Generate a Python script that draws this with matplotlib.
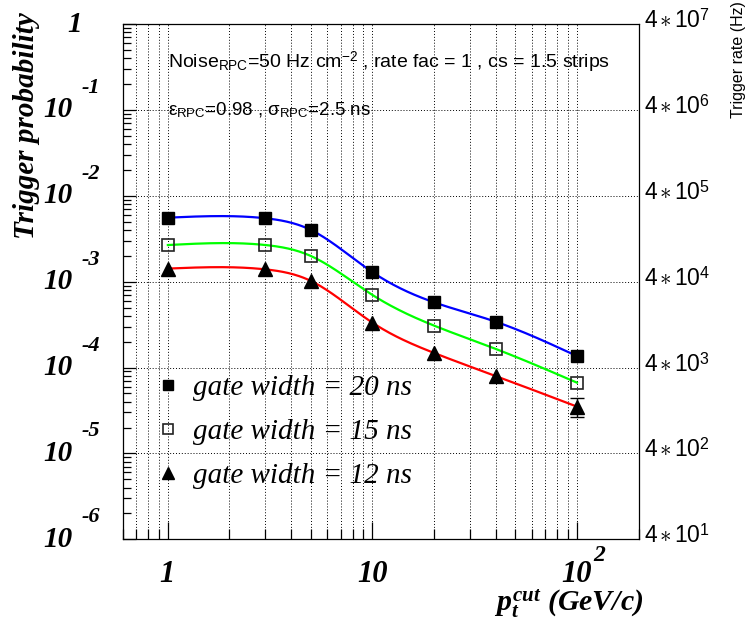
import numpy as np
import matplotlib
matplotlib.use('Agg')
import matplotlib.pyplot as plt
from matplotlib.lines import Line2D

# data
pt_cut = [1, 3, 5, 10, 20, 40, 100]
prob_20ns = [5.56e-3, 5.47e-3, 4.00e-3, 1.29e-3, 5.75e-4, 3.42e-4, 1.36e-4]
prob_15ns = [2.67e-3, 2.67e-3, 1.99e-3, 7.00e-4, 3.08e-4, 1.65e-4, 6.67e-5]
prob_12ns = [1.42e-3, 1.39e-3, 1.02e-3, 3.33e-4, 1.48e-4, 7.98e-5, 3.51e-5]
err_12ns = [0, 0, 0, 0, 0, 0, 0.85e-5]
legend_labels = ['gate width = 20 ns', 'gate width = 15 ns', 'gate width = 12 ns']
rate_factor = 4e7  # trigger rate = probability * 4e7 Hz

plt.rcParams['mathtext.fontset'] = 'custom'
plt.rcParams['mathtext.it'] = 'Liberation Serif:italic:bold'
plt.rcParams['mathtext.rm'] = 'Liberation Sans'
plt.rcParams['mathtext.bf'] = 'Liberation Serif:bold'

SERIF = 'Liberation Serif'
SANS = 'Liberation Sans'


def smooth_curve(x, y, n=300):
    # natural cubic spline in log-log space, like ROOT's "C" drawing option
    lx = np.log10(np.asarray(x, float))
    ly = np.log10(np.asarray(y, float))
    m = len(lx)
    h = np.diff(lx)
    A = np.zeros((m, m))
    b = np.zeros(m)
    A[0, 0] = A[-1, -1] = 1
    for i in range(1, m - 1):
        A[i, i - 1] = h[i - 1]
        A[i, i] = 2 * (h[i - 1] + h[i])
        A[i, i + 1] = h[i]
        b[i] = 3 * ((ly[i + 1] - ly[i]) / h[i] - (ly[i] - ly[i - 1]) / h[i - 1])
    c = np.linalg.solve(A, b)
    xs = np.linspace(lx[0], lx[-1], n)
    k = np.clip(np.searchsorted(lx, xs) - 1, 0, m - 2)
    dx = xs - lx[k]
    bb = (ly[k + 1] - ly[k]) / h[k] - h[k] * (2 * c[k] + c[k + 1]) / 3
    dd = (c[k + 1] - c[k]) / (3 * h[k])
    ys = ly[k] + bb * dx + c[k] * dx ** 2 + dd * dx ** 3
    return 10 ** xs, 10 ** ys


fig = plt.figure(figsize=(7.5, 6.24), dpi=100)
ax = fig.add_axes([122.5 / 750, 1 - 539.3 / 624, (638.5 - 122.5) / 750, (539.3 - 24) / 624])
ax.set_xscale('log')
ax.set_yscale('log')
ax.set_xlim(0.6, 200)
ax.set_ylim(1e-6, 1)

# grid: all x ticks, y decades only
xgrid = [m * 10 ** e for e in range(-1, 3) for m in range(1, 10)]
xgrid = [v for v in xgrid if 0.6 < v < 200]
for v in xgrid:
    ax.axvline(v, color='black', lw=0.7, ls=(0, (1, 2)), zorder=0)
for e in range(-5, 0):
    ax.axhline(10.0 ** e, color='black', lw=0.7, ls=(0, (1, 2)), zorder=0)

for yv, col in [(prob_20ns, '#0000ff'), (prob_15ns, '#00ff00'), (prob_12ns, '#ff0000')]:
    xs, ys = smooth_curve(pt_cut, yv)
    ax.plot(xs, ys, color=col, lw=1.6, zorder=2)

ax.plot(pt_cut, prob_20ns, 's', ms=8.6, color='black', zorder=3)
ax.plot(pt_cut, prob_15ns, 's', ms=8.6, mfc='none', mec='#222222', mew=1.2, zorder=3)
ax.plot(pt_cut, prob_12ns, '^', ms=10, color='black', zorder=3)
sel = [i for i, e in enumerate(err_12ns) if e > 0]
ax.errorbar([pt_cut[i] for i in sel], [prob_12ns[i] for i in sel],
            yerr=[err_12ns[i] for i in sel], fmt='none', ecolor='black',
            elinewidth=1.0, capsize=5, capthick=1.0, zorder=3)

# axes frame and ticks (ROOT-like, inward, left/bottom only)
for s in ax.spines.values():
    s.set_linewidth(0.9)
ax.tick_params(which='both', direction='in', top=False, right=False,
               labelleft=False, labelbottom=False)
ax.tick_params(axis='x', which='major', length=12, width=0.9)
ax.tick_params(axis='x', which='minor', length=7, width=0.9)
ax.tick_params(axis='y', which='major', length=9, width=0.9)
ax.tick_params(axis='y', which='minor', length=6, width=0.9)
ax.yaxis.set_minor_locator(matplotlib.ticker.LogLocator(base=10, subs=np.arange(2, 10), numticks=20))

# left tick labels, ROOT style exponent
lab = dict(family=SERIF, weight='bold', style='italic')
for e in range(-6, 1):
    v = 10.0 ** e
    if e == 0:
        ax.annotate('1', (0, v), xycoords=('axes fraction', 'data'), xytext=(-47.5, 0),
                    textcoords='offset pixels', ha='center', va='center', fontsize=21, **lab)
    else:
        ax.annotate('10', (0, v), xycoords=('axes fraction', 'data'), xytext=(-64.5, 0),
                    textcoords='offset pixels', ha='center', va='center', fontsize=21, **lab)
        ax.annotate(str(e), (0, v), xycoords=('axes fraction', 'data'), xytext=(-41, 22),
                    textcoords='offset pixels', ha='left', va='center', fontsize=16, **lab)
    # right axis: trigger rate
    ax.annotate(r'$4\,{\ast}\,10^{%d}$' % (e + 7), (1, v), xycoords=('axes fraction', 'data'),
                xytext=(5, 3), textcoords='offset pixels', ha='left', va='center',
                fontsize=16.5, color='black')

# bottom tick labels
for v in [1, 10, 100]:
    txt = '1' if v == 1 else '10'
    ax.annotate(txt, (v, 0), xycoords=('data', 'axes fraction'), xytext=(-1 if v == 1 else 0, -35),
                textcoords='offset pixels', ha='center', va='center', fontsize=22, **lab)
ax.annotate('2', (100, 0), xycoords=('data', 'axes fraction'), xytext=(16, -16),
            textcoords='offset pixels', ha='left', va='center', fontsize=17, **lab)

fig.text(643 / 750, 1 - 604 / 624, r'$p_t^{cut}$ (GeV/c)', ha='right', va='center',
         fontsize=21.5, **lab)
fig.text(27 / 750, 1 - 12 / 624, 'Trigger probability', rotation=90, ha='center', va='top',
         fontsize=21, **lab)
fig.text(739 / 750, 1 - 1 / 624, 'Trigger rate (Hz)', rotation=90, ha='center', va='top',
         fontsize=11.5, family=SANS)

fig.text(168 / 750, 1 - 62 / 624,
         r'Noise$_{\rm RPC}$=50 Hz cm$^{-2}$ , rate fac = 1 , cs = 1.5 strips',
         ha='left', va='center', fontsize=14, family=SANS)
fig.text(168 / 750, 1 - 110 / 624, r'ε$_{\rm RPC}$=0.98 , σ$_{\rm RPC}$=2.5 ns',
         ha='left', va='center', fontsize=13.5, family=SANS)

handles = [Line2D([], [], ls='none', marker='s', ms=7.5, color='black'),
           Line2D([], [], ls='none', marker='s', ms=7.5, mfc='none', mec='#222222', mew=1.2),
           Line2D([], [], ls='none', marker='^', ms=8.5, color='black')]
leg = fig.legend(handles, legend_labels, loc='center left',
                 bbox_to_anchor=(156.3 / 750, 1 - 432 / 624), frameon=False,
                 prop=dict(family=SERIF, style='italic', size=21),
                 handlelength=0.8, handletextpad=0.47, labelspacing=0.6,
                 borderpad=0, borderaxespad=0)

fig.savefig('out.png', dpi=100)
